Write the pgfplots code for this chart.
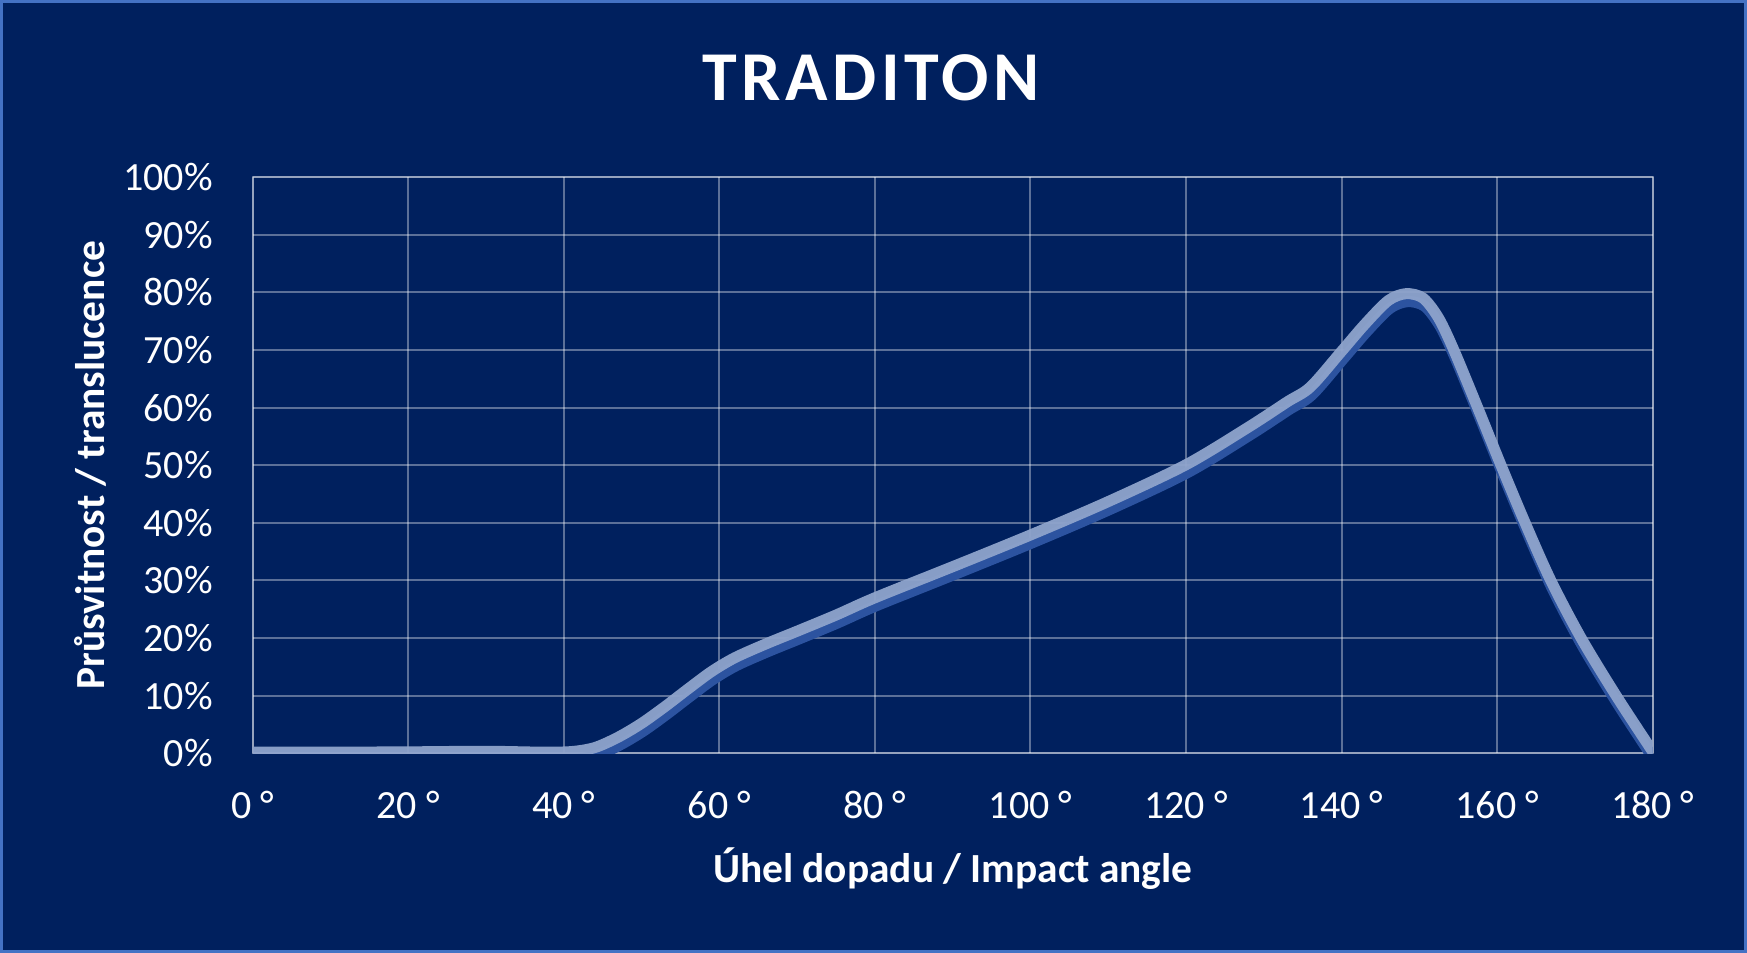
\documentclass[border=0pt]{standalone}
\usepackage{fontspec}
\setmainfont{Carlito}
\newfontfamily\titlefont[LetterSpace=6.5]{Carlito}
\usepackage{pgfplots}
\pgfplotsset{compat=1.18}
\usepackage{pgfplotstable}
\definecolor{bg}{RGB}{0,32,94}
\definecolor{framec}{RGB}{68,114,196}
\definecolor{lightline}{RGB}{143,164,204}
\definecolor{shadowc}{RGB}{44,83,160}
\pgfplotstableread{
angle trans
0 0.2
10 0.2
20 0.25
30 0.35
37 0.2
41 0.3
44 1.0
47 2.8
50 5.2
53 8.1
56 11.2
59 14.2
62 16.6
66 19.0
70 21.2
75 24.0
80 27.0
90 32.4
100 37.9
110 43.7
120 50.1
128 56.6
133 61.0
136 63.6
140 69.8
143 74.5
146 78.6
148.3 79.8
150.5 79.0
152.5 75.5
154.5 69.8
157.5 60.0
160.5 50.0
163.6 40.0
166.9 30.0
170.8 20.0
175.3 10.0
180 0.3
}\curve
\begin{document}
\begin{tikzpicture}
\fill[bg] (0,0) rectangle (873.5pt,476.5pt);
\draw[framec, line width=1.6pt] (0.8pt,0.8pt) rectangle (872.7pt,475.7pt);
\useasboundingbox (0,0) rectangle (873.5pt,476.5pt);
\node[anchor=base, text=white, font=\titlefont\fontsize{35}{40}\selectfont\bfseries, inner sep=0pt] at (435.5pt,426pt) {TRADITON};
\begin{axis}[
  at={(126.35pt,99.85pt)}, anchor=south west,
  scale only axis, width=700pt, height=288pt,
  xmin=0, xmax=180, ymin=0, ymax=100,
  xtick={0,20,...,180}, ytick={0,10,...,100},
  xticklabels={0 °,20 °,40 °,60 °,80 °,100 °,120 °,140 °,160 °,180 °},
  yticklabels={0\%,10\%,20\%,30\%,40\%,50\%,60\%,70\%,80\%,90\%,100\%},
  grid=major,
  major grid style={draw=white, draw opacity=0.36, line width=1pt},
  axis line style={draw=white, draw opacity=0.36, line width=1pt},
  major tick length=0pt, tick style={draw=none},
  ticklabel style={text=white, font=\fontsize{20}{24}\selectfont},
  xticklabel style={anchor=base, inner sep=0pt, yshift=-32.85pt},
  yticklabel style={anchor=east, inner sep=0pt, xshift=-19.85pt},
  xlabel={Úhel dopadu / Impact angle},
  ylabel={Průsvitnost / translucence},
  label style={text=white, font=\fontsize{20.7}{25}\selectfont\bfseries, inner sep=0pt},
  xlabel style={at={(axis description cs:0.5,-0.22517)}, anchor=base},
  ylabel style={at={(axis description cs:-0.1055,0.5)}, anchor=base},
]
\addplot[shadowc, line width=5.5pt, line cap=round, smooth, xshift=0.7pt, yshift=-4pt] table[x=angle,y=trans] {\curve};
\addplot[lightline, line width=5.5pt, line cap=round, smooth, opacity=0.95] table[x=angle,y=trans] {\curve};
\end{axis}
\end{tikzpicture}
\end{document}
